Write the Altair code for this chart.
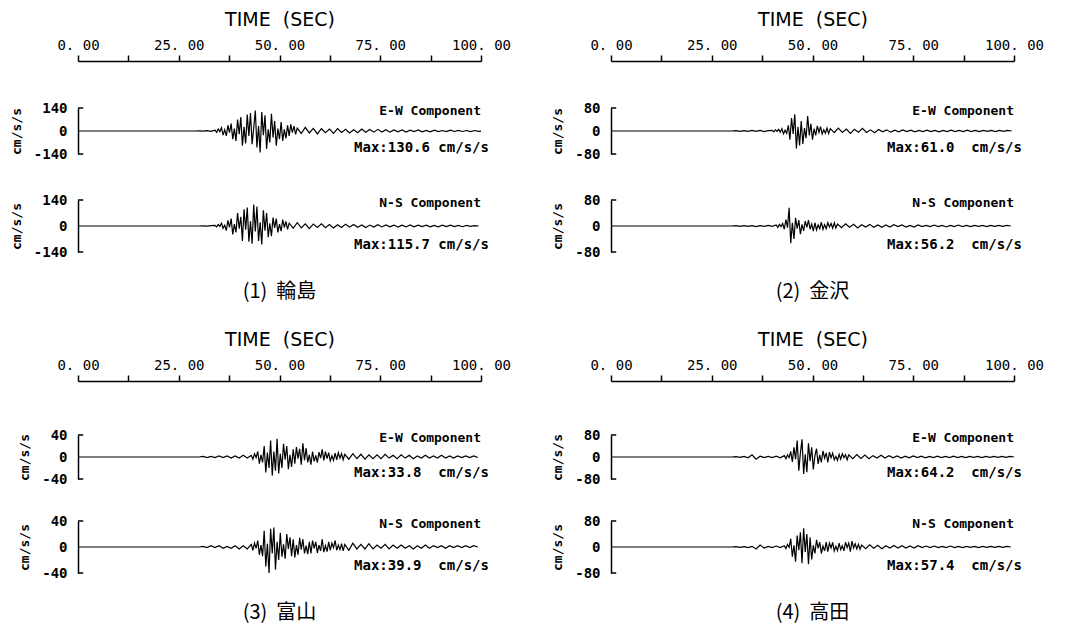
import altair as alt
import pandas as pd

MONO = "DejaVu Sans Mono"
NB = "\u00a0"

TIME_TICKS = [0, 12.5, 25, 37.5, 50, 62.5, 75, 87.5, 100]
STATIONS = ["(1)" + NB + NB + "輪島", "(2)" + NB + NB + "金沢",
            "(3)" + NB + NB + "富山", "(4)" + NB + NB + "高田"]
Y_RANGE = [140, 80, 40, 80]
MAX_EW = ["130.6", "61.0", "33.8", "64.2"]
MAX_NS = ["115.7", "56.2", "39.9", "57.4"]
PRE_START = {"w_ew": 29, "w_ns": 30, "k_ew": 30, "k_ns": 30,
             "t_ew": 30, "t_ns": 30, "ta_ew": 30, "ta_ns": 30}

# --- (1) Wajima ---
W_EW_PRE = [0, 1, -1, 2, -2]
W_EW_STRONG = [5, -8, 12, -4, 20, -25, 8, -30, 35, -10, 45, -50, 15, -60,
               70, -20, 85, -90, 25, -75, 100, -30, 110, -80,
               20, 125, -100, 30, -130, 115, -25, 95, -110, 10, -70,
               105, -40, 60, -90, 15, -50, 55, -60, 10, -45,
               35, -30, 40, -10, 30, -20]
W_EW_CODA = [18, -15, 22, -12, 16, -18, 14, -10, 12, -14, 15, -9, 10, -12, 8, -10,
             12, -8, 9, -7, 10, -6, 8, -7, 6, -5, 7, -6, 5, -4, 6, -5, 4, -5, 5, -4,
             3, -4, 5, -3, 4, -3, 3, -4, 3, -2, 0]
W_NS_PRE = [0, 1, -1, 2]
W_NS_STRONG = [3, -5, 8, -2, 15, -12, 4, -25, 30, -8,
               40, -45, 10, -35, 70, -15, 50, -80, 90, -20,
               100, -85, 25, -95, 115, -30, 105, -80, 20, -100,
               85, -25, 70, -60, 15, -55, 45, -10, 40, -35,
               10, -28, 35, -8, 25, -18]
W_NS_CODA = [15, -12, 18, -10, 12, -14, 10, -8, 12, -9, 8, -10, 7, -8, 10, -6,
             8, -7, 6, -8, 5, -6, 7, -5, 6, -4, 5, -6, 4, -5, 6, -4, 5, -3, 4, -5,
             3, -4, 4, -3, 5, -3, 3, -4, 3, -2, 2, 0]

# --- (2) Kanazawa ---
K_EW_PRE = [0, 1, -1, 1, -1, 2, -1, 2, -2, 1]
K_EW_STRONG = [2, -3, 4, -1, 6, -4, 8, -10, 3, -8,
               20, -30, 45, -10, 58, -61, 15, -50, 35, -45,
               10, -25, 52, -15, 25, -30, 8, -15, 18, -5,
               15, -10, 4, -8, 10, -9]
K_EW_CODA = [8, -6, 10, -5, 7, -8, 6, -4, 9, -5, 4, -6, 5, -3, 4, -4, 3, -3, 4, -2,
             3, -3, 2, -2, 3, -2, 2, -3, 2, -2, 3, -2, 2, -2, 3, -2, 2, -2, 2, -1,
             2, -2, 2, -1, 2, 0]
K_NS_PRE = [0, 1, -1, 1, -1, 1, -2, 1, -1, 2, -1]
K_NS_STRONG = [3, -4, 5, -2, 8, -10, 20, -5,
               56, -53, 10, -40, 25, -8, 18, -25, 5, -15,
               15, -4, 18, -10, 6, -16, 10, -12, 3, -8,
               12, -10, 4, -8, 10, -3, 8, -7, 10, -6]
K_NS_CODA = [6, -5, 7, -4, 5, -6, 4, -3, 5, -4, 3, -4, 3, -3, 4, -2, 3, -3, 2, -3,
             3, -2, 2, -2, 3, -2, 2, -3, 2, -2, 3, -2, 2, -2, 2, -1, 2, -2, 2, -1,
             2, -1, 2, 0]

# --- (3) Toyama ---
T_EW_PRE = [0, 1, -1, 1, -1, 2, -1, 2, -2, 2, -2, 3, -2]
T_EW_STRONG = [3, -4, 6, -1, 10, -12, 4, -10,
               20, -28, 8, -20, 30, -33.8, 10, -25, 33, -30,
               6, -20, 24, -5, 20, -22, 4, -18, 14, -12,
               18, -3, 15, -14, 25, -6, 16, -10, 4, -14,
               10, -8, 3, -10, 9, -2, 14, -6, 10, -3,
               8, -7, 2, -6, 7, -5, 8, -2, 6, -5]
T_EW_CODA = [5, -4, 6, -3, 5, -4, 4, -3, 4, -3, 5, -2, 3, -3, 4, -2, 3, -3, 2, -2,
             3, -2, 2, -2, 3, -2, 2, -2, 2, -1, 2, -1, 2, -1]
T_NS_PRE = [0, 1, -1, 2, -1, 2, -2, 1, -2, 2, -3, 2, -3]
T_NS_STRONG = [4, -5, 6, -2, 10, -12, 3, -14,
               25, -30, 5, -39.9, 28, -10, 30, -35, 8, -20,
               22, -15, 4, -18, 20, -3, 15, -14, 12, -16,
               3, -12, 14, -4, 12, -10, 2, -11, 8, -10,
               10, -2, 8, -9, 3, -6, 12, -8, 2, -7,
               8, -5, 6, -1, 10, -5, 3, -4, 5, -6]
T_NS_CODA = [4, -5, 6, -3, 4, -3, 5, -3, 3, -2, 4, -3, 3, -2, 3, -2, 2, -3, 2, -2,
             3, -2, 2, -1, 2, -2, 2, -1, 2, -1, 2, -1, 2, 0]

# --- (4) Takada ---
TA_EW_PRE = [0, 1, -1, 2, -3, 8, -8, 3, -2, 2, -2, 3, -3]
TA_EW_STRONG = [5, -6, 8, -2, 20, -18, 35, -8,
                60, -50, 15, 64.2, -62, 10, -55, 50, -15, 35, -45, 5,
                30, -25, 8, -20, 22, -4, 15, -20, 18, -3,
                14, -10, 2, -12, 10, -8, 12, -2, 8, -10]
TA_EW_CODA = [8, -6, 9, -5, 7, -6, 5, -4, 6, -4, 5, -3, 4, -4, 3, -3, 4, -2, 3, -3,
              2, -2, 3, -2, 2, -2, 3, -2, 2, -2, 2, -1, 2, -2, 2, -1, 2, -1, 2, -1,
              2, 0]
TA_NS_PRE = [0, 1, -1, 1, -2, 2, -6, 6, -3, 2, -2, 3, -2]
TA_NS_STRONG = [4, -5, 8, -1, 25, -30, 5, -45,
                35, -10, 45, -50, 57.4, -15, 40, -53, 30, -38,
                5, -20, 22, -4, 15, -20, 3, -12, 15, -14,
                12, -3, 14, -12, 2, -11, 12, -8, 4, -12,
                15, -2, 12, -14, 18, -3, 10, -6, 8, -7]
TA_NS_CODA = [6, -5, 7, -4, 5, -5, 4, -3, 5, -3, 4, -3, 3, -3, 4, -2, 3, -2, 3, -2,
              2, -2, 3, -2, 2, -2, 2, -1, 2, -2, 2, -1, 2, -1, 2, -1, 2, 0]


def build(pre_start, pre, strong, coda):
    t = [0.0]
    v = [0.0]
    t += [pre_start + i * 1.0 for i in range(len(pre))]
    v += pre
    s0 = pre_start + len(pre) * 1.0
    t += [s0 + 0.4 * i for i in range(len(strong))]
    v += strong
    c0 = s0 + 0.4 * len(strong)
    t += [c0 + 1.0 * i for i in range(len(coda))]
    v += coda
    return pd.DataFrame({"t": t, "v": v})


W = 403
XS = alt.Scale(domain=[0, 100], nice=False, zero=False)


def spacer(h):
    return alt.Chart(pd.DataFrame({"a": [0]})).mark_point(opacity=0).properties(
        width=W, height=h)


def time_axis():
    df = pd.DataFrame({"t": [0, 100]})
    return alt.Chart(df).mark_point(opacity=0).encode(
        x=alt.X("t:Q", scale=XS, axis=alt.Axis(
            orient="top", values=TIME_TICKS, grid=False,
            labelExpr="datum.value % 25 == 0 ? replace(format(datum.value, '.2f'), '.', '. ') : ''",
            labelFlush=False, labelOverlap=False,
            labelFont=MONO, labelFontSize=14, labelColor="black", labelPadding=3,
            tickSize=6, tickWidth=1.5, tickColor="black",
            domainColor="black", domainWidth=1.5,
            title="TIME" + NB + NB + "(SEC)", titleFont="DejaVu Sans", titleFontSize=19,
            titleFontWeight="normal", titleColor="black", titlePadding=9))
    ).properties(width=W, height=1)


def trace(df, rng, comp, maxtxt, h, title=None):
    ys = alt.Scale(domain=[-rng, rng], nice=False, zero=False)
    yaxis = alt.Axis(values=[-rng, 0, rng], title="cm/s/s", grid=False,
                     labelExpr="'' + datum.value", labelOverlap=False,
                     labelBound=False, labelFlush=False,
                     ticks=False, tickSize=0, domain=True, domainColor="black",
                     domainWidth=1.5, labelFont=MONO, labelFontSize=14,
                     labelFontWeight="bold", labelColor="black", labelPadding=11,
                     titleFont=MONO, titleFontSize=13, titleFontWeight="bold",
                     titleColor="black", titlePadding=10)
    line = alt.Chart(df).mark_line(color="black", strokeWidth=1.2, clip=True).encode(
        x=alt.X("t:Q", scale=XS, axis=None),
        y=alt.Y("v:Q", scale=ys, axis=yaxis))
    hooks_df = pd.DataFrame({"x0": [0, 0], "x1": [1.3, 1.3], "y": [-rng, rng]})
    hooks = alt.Chart(hooks_df).mark_rule(color="black", strokeWidth=1.5).encode(
        x=alt.X("x0:Q", scale=XS, axis=None), x2="x1:Q",
        y=alt.Y("y:Q", scale=ys, axis=yaxis))
    comp_df = pd.DataFrame({"x": [100], "y": [0.88 * rng], "txt": [comp]})
    comp_t = alt.Chart(comp_df).mark_text(
        align="right", baseline="middle", font=MONO, fontSize=13,
        fontWeight="bold", color="black").encode(
        x=alt.X("x:Q", scale=XS, axis=None),
        y=alt.Y("y:Q", scale=ys, axis=yaxis), text="txt:N")
    label = "Max:" + maxtxt + NB * (6 - len(maxtxt)) + "cm/s/s"
    max_df = pd.DataFrame({"x": [68.5], "y": [-0.72 * rng], "txt": [label]})
    max_t = alt.Chart(max_df).mark_text(
        align="left", baseline="middle", font=MONO, fontSize=14,
        fontWeight="bold", color="black").encode(
        x=alt.X("x:Q", scale=XS, axis=None),
        y=alt.Y("y:Q", scale=ys, axis=yaxis), text="txt:N")
    props = dict(width=W, height=h)
    if title is not None:
        props["title"] = alt.TitleParams(
            title, orient="bottom", anchor="middle", font="Noto Sans CJK JP",
            fontSize=20, fontWeight="normal", color="black", offset=23)
    return alt.layer(line, hooks, comp_t, max_t).properties(**props)


d_w_ew = build(PRE_START["w_ew"], W_EW_PRE, W_EW_STRONG, W_EW_CODA)
d_w_ns = build(PRE_START["w_ns"], W_NS_PRE, W_NS_STRONG, W_NS_CODA)
d_k_ew = build(PRE_START["k_ew"], K_EW_PRE, K_EW_STRONG, K_EW_CODA)
d_k_ns = build(PRE_START["k_ns"], K_NS_PRE, K_NS_STRONG, K_NS_CODA)
d_t_ew = build(PRE_START["t_ew"], T_EW_PRE, T_EW_STRONG, T_EW_CODA)
d_t_ns = build(PRE_START["t_ns"], T_NS_PRE, T_NS_STRONG, T_NS_CODA)
d_ta_ew = build(PRE_START["ta_ew"], TA_EW_PRE, TA_EW_STRONG, TA_EW_CODA)
d_ta_ns = build(PRE_START["ta_ns"], TA_NS_PRE, TA_NS_STRONG, TA_NS_CODA)

cells = [
    time_axis(), time_axis(),
    spacer(46), spacer(46),
    trace(d_w_ew, Y_RANGE[0], "E-W Component", MAX_EW[0], 46),
    trace(d_k_ew, Y_RANGE[1], "E-W Component", MAX_EW[1], 46),
    spacer(46), spacer(46),
    trace(d_w_ns, Y_RANGE[0], "N-S Component", MAX_NS[0], 52, STATIONS[0]),
    trace(d_k_ns, Y_RANGE[1], "N-S Component", MAX_NS[1], 52, STATIONS[1]),
    spacer(129), spacer(129),
    time_axis(), time_axis(),
    spacer(53), spacer(53),
    trace(d_t_ew, Y_RANGE[2], "E-W Component", MAX_EW[2], 44),
    trace(d_ta_ew, Y_RANGE[3], "E-W Component", MAX_EW[3], 44),
    spacer(42), spacer(42),
    trace(d_t_ns, Y_RANGE[2], "N-S Component", MAX_NS[2], 52, STATIONS[2]),
    trace(d_ta_ns, Y_RANGE[3], "N-S Component", MAX_NS[3], 52, STATIONS[3]),
]

chart = alt.concat(*cells, columns=2, spacing={"row": 0, "column": 130},
                   bounds="flush").properties(
    padding={"left": 2, "top": 2, "right": 5, "bottom": 5},
    background="white",
).configure_view(stroke=None).configure_axis(grid=False, labelOverlap=False)

chart.save("out.html", embed_options={"renderer": "svg", "actions": False})
